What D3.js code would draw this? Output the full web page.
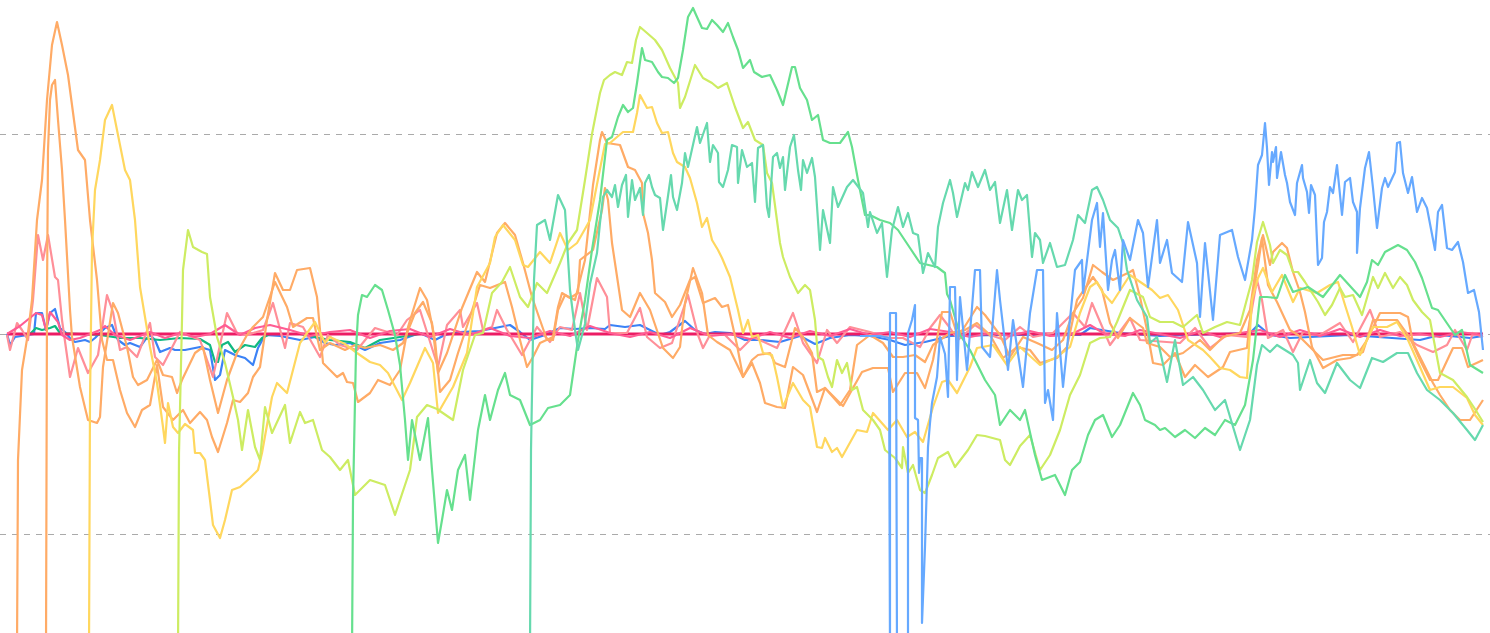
<!DOCTYPE html>
<html>
<head>
<meta charset="utf-8">
<script src="https://cdnjs.cloudflare.com/ajax/libs/d3/7.8.5/d3.min.js"></script>
<style>html,body{margin:0;padding:0;background:#fff;overflow:hidden}svg{display:block}</style>
</head>
<body>
<svg id="c" width="1490" height="633"></svg>
<script>
// flat lists: step, value, step, value ...
const gridValues = [-200, 0, 200];
const deepBlue = [7,0,10,-11,15,-3,34,0,36,21,42,21,46,4,50,21,55,25,60,6,65,2,70,-4,75,-8,85,-6,90,-8,95,-4,105,6,112,9,118,-6,125,-11,130,-9,140,-13,145,-6,150,-1,155,-6,160,-18,170,-14,175,-16,185,-16,200,-13,210,-16,215,-46,220,-41,225,-16,235,-21,245,-24,253,-31,258,-14,265,-1,280,-2,300,-6,315,-3,325,-9,335,-11,350,-9,365,-16,380,-9,400,-6,420,1,435,-6,445,-1,460,2,480,3,500,7,510,9,520,2,530,-6,545,-1,560,6,575,5,590,6,605,5,610,9,625,7,640,9,650,4,660,-1,670,2,685,13,695,4,705,0,715,2,730,1,745,-6,760,-6,780,-8,800,-2,815,-10,830,-4,850,-1,870,-2,890,-6,905,-11,925,-8,950,-2,1000,-1,1080,-1,1090,6,1120,1,1160,-2,1250,1,1258,9,1270,-1,1290,-4,1350,-1,1420,-6,1440,-1,1470,-4,1483,-2];
const deepGreen = [7,0,30,0,36,6,42,4,50,6,55,8,60,1,100,-1,120,-4,140,-4,160,-6,180,-4,200,-5,210,-11,215,-28,218,-28,222,-11,228,-8,235,-18,245,-11,255,-13,262,-4,270,0,300,0,330,-6,350,-8,365,-14,380,-6,400,-3,420,0,700,0,1483,0];
const crimson = [7,0,500,0,1000,0,1483,0];
const salmon = [7,-1,10,-16,17,11,22,4,28,-6,33,34,38,99,43,74,48,99,55,57,58,54,62,14,70,-43,78,-14,88,-39,98,-21,107,39,113,22,120,-16,127,-13,137,-23,150,11,155,-23,163,-31,180,2,200,-6,213,-43,227,21,237,1,247,-1,263,4,273,31,285,-14,290,11,303,7,320,-23,328,-1,340,-11,357,-16,375,6,397,-1,407,14,420,24,438,-33,447,9,460,24,463,7,477,31,483,4,492,7,497,24,507,4,522,-21,537,7,550,-8,560,7,572,4,580,41,587,4,597,56,607,37,610,1,627,1,640,26,647,-3,660,-14,672,-9,688,39,698,-1,703,-14,710,-1,725,-1,740,-16,753,-3,777,-14,793,21,803,-9,817,-29,827,4,837,-9,850,7,870,2,890,-4,903,-4,920,-13,930,6,940,19,950,6,958,-6,975,9,990,-1,1005,-6,1020,7,1033,-3,1053,1,1073,21,1085,7,1092,31,1110,-11,1130,16,1140,-6,1180,-9,1195,6,1210,-14,1227,-1,1247,-3,1257,54,1262,34,1268,-4,1283,4,1293,-18,1303,2,1320,-1,1340,11,1353,-8,1370,24,1380,-3,1400,2,1417,-11,1433,-18,1447,-11,1455,4,1467,-16,1473,1,1483,-3];
const pink = [7,0,20,8,36,21,42,19,46,4,50,22,58,12,62,-1,70,-6,80,-4,100,4,105,8,115,-1,130,-6,150,2,165,-4,180,1,195,-3,210,0,225,9,240,-1,255,6,270,9,290,4,310,-2,330,2,350,4,370,-4,390,3,410,5,430,-3,450,5,470,-1,490,6,510,-2,530,-4,550,3,570,-2,590,8,610,1,630,-3,650,2,670,-4,690,6,710,-2,730,0,750,-5,770,2,790,-4,810,3,830,-2,850,5,870,-1,890,2,910,-3,930,5,950,2,970,-3,990,1,1010,-2,1030,3,1050,-2,1070,-1,1090,9,1105,0,1125,-2,1140,4,1160,0,1180,-4,1200,3,1220,-3,1240,1,1260,4,1280,-3,1300,4,1320,-2,1340,5,1360,-3,1380,4,1400,-2,1420,0,1440,-3,1460,2,1483,-1];
const orangeA = [17,-320,18,-126,22,-36,28,1,32,34,37,114,42,154,47,234,52,289,57,312,62,289,68,259,72,229,78,184,85,174,90,114,97,54,102,-6,107,-26,113,-26,120,-56,127,-79,135,-93,142,-76,150,-71,157,-31,163,-73,173,-86,183,-76,190,-89,200,-78,207,-86,212,-103,218,-118,227,-89,233,-66,240,-68,248,-59,253,-43,260,-33,267,14,275,61,283,44,290,44,297,64,310,66,317,37,323,-29,330,-36,337,-43,343,-39,347,-48,353,-49,358,-68,370,-59,378,-46,390,-51,400,-36,408,7,420,46,427,34,435,-6,440,-58,450,-46,458,-19,470,17,480,49,490,46,505,52,512,27,520,-6,527,-33,533,-23,540,-9,553,-3,558,27,562,41,570,36,578,41,580,74,593,84,602,124,605,146,608,134,612,91,615,71,622,24,630,17,640,41,650,24,663,-14,673,-24,680,-13,685,31,693,66,702,41,708,-1,717,-8,730,-16,743,-43,752,-29,760,-49,765,-69,777,-73,785,-74,793,-33,803,-41,817,-78,825,-54,843,-72,853,-54,862,-38,873,-34,888,-34,893,-58,905,-39,917,-39,925,-54,933,-26,942,22,950,22,958,-3,967,11,977,27,985,19,1000,-1,1010,-23,1023,-3,1037,-9,1052,-16,1063,-6,1073,21,1083,36,1093,69,1102,62,1113,54,1130,62,1133,64,1140,37,1147,4,1153,-29,1163,-31,1175,-19,1185,-43,1195,-31,1208,-43,1223,-33,1230,-18,1247,-14,1252,34,1258,69,1262,96,1268,49,1277,32,1290,4,1298,-1,1310,-13,1323,-26,1343,-21,1357,-21,1367,-6,1380,21,1400,21,1408,17,1413,-9,1423,-29,1433,-49,1440,-61,1450,-76,1460,-86,1470,-86,1483,-66];
const orangeB = [46,-320,47,34,48,184,50,234,52,249,55,254,58,214,62,164,65,114,70,24,72,-3,80,-53,88,-86,97,-89,100,-83,103,-33,113,31,118,21,127,-13,133,-43,138,-51,147,-46,157,-26,163,-41,172,-43,177,-59,182,-46,195,-19,203,-13,210,-46,218,-79,227,-46,237,-19,247,-1,253,7,263,17,275,52,287,27,293,7,307,16,313,16,320,-16,330,-9,345,-16,355,-11,365,-14,380,-11,393,-16,403,-9,415,21,423,32,432,11,438,-39,447,-19,462,26,477,62,485,52,497,101,505,111,515,99,523,71,532,37,540,14,547,-6,553,-6,558,24,565,39,575,34,585,74,593,149,600,194,602,202,607,191,620,189,628,167,635,164,642,151,643,121,648,101,652,74,655,41,665,32,672,17,680,29,690,54,695,57,703,31,715,36,722,27,728,29,737,-11,743,-43,752,-26,758,-21,770,-19,775,-29,785,-33,795,6,803,-3,812,-19,817,-58,825,-54,840,-71,850,-56,857,-11,870,-1,883,-9,893,-23,903,-23,915,-21,925,-28,933,-11,940,-6,950,1,965,4,977,11,990,-1,1003,-24,1017,-13,1030,-16,1040,-29,1057,-24,1067,-13,1077,34,1093,57,1102,44,1110,11,1118,-4,1130,16,1143,6,1147,-9,1160,-13,1170,-23,1183,-19,1200,-6,1210,-16,1223,-3,1240,1,1250,24,1257,74,1263,99,1270,69,1273,82,1282,91,1287,86,1293,62,1300,42,1305,22,1312,-13,1323,-34,1337,-26,1350,-24,1363,-18,1373,14,1387,14,1397,14,1410,-4,1420,-26,1430,-46,1438,-46,1445,-31,1453,-14,1462,-14,1468,-33,1483,-26];
const yellow = [89,-320,90,-66,92,84,95,144,100,174,105,214,112,229,118,199,125,164,130,154,135,114,140,47,145,17,150,-13,157,-49,163,-93,165,-109,168,-69,173,-93,178,-99,185,-90,193,-96,195,-119,200,-119,205,-126,210,-166,213,-191,220,-204,225,-186,232,-156,240,-153,250,-144,258,-136,262,-119,272,-63,277,-49,287,-59,300,-9,315,12,325,-9,330,-3,345,-10,357,-19,370,-28,380,-31,388,-39,402,-66,410,-49,425,-14,433,-29,438,-79,453,-53,467,-19,477,47,490,71,495,97,503,109,515,94,523,69,528,67,540,82,550,71,560,101,568,84,577,91,585,105,590,114,600,165,605,190,610,191,617,197,623,202,633,202,637,221,640,239,647,226,652,227,657,211,662,201,668,202,673,181,677,172,685,167,690,156,697,131,702,107,707,116,712,94,718,84,722,76,730,57,738,24,743,1,748,14,752,-3,758,-1,763,-19,772,-21,777,-43,783,-73,793,-49,803,-66,810,-73,817,-113,822,-114,825,-104,832,-118,837,-114,842,-123,857,-96,867,-98,873,-79,888,-96,897,-86,907,-103,915,-98,923,-108,933,-73,942,-48,948,-46,957,-59,970,-33,977,-14,993,-11,1007,-31,1020,-13,1040,-31,1057,-23,1070,-13,1080,21,1090,47,1097,52,1103,41,1112,31,1130,59,1152,44,1160,36,1168,39,1178,24,1188,-6,1203,-16,1210,-23,1220,-34,1230,-36,1240,-43,1247,-44,1252,34,1258,56,1263,66,1272,42,1282,59,1293,32,1300,46,1317,41,1330,49,1338,52,1345,29,1352,7,1360,-21,1373,7,1387,7,1397,12,1408,-6,1420,-33,1430,-56,1440,-53,1453,-53,1467,-64,1475,-81,1483,-91];
const lime = [178,-320,179,-119,182,14,183,64,188,104,193,87,202,82,207,80,210,37,217,-3,225,-29,233,-63,238,-86,242,-116,248,-76,255,-113,260,-126,265,-73,272,-99,285,-71,290,-109,300,-78,305,-89,313,-86,322,-116,330,-123,340,-136,348,-126,355,-161,370,-146,385,-151,395,-181,410,-136,417,-83,427,-71,437,-75,453,-86,463,-36,475,-1,483,1,492,41,502,52,510,67,520,37,528,27,537,51,547,41,560,71,568,91,577,104,585,154,592,200,600,241,604,254,610,259,615,262,622,259,627,272,632,271,636,294,640,307,647,301,655,294,662,284,670,266,678,251,680,226,685,237,695,269,703,256,712,251,718,246,727,251,735,227,743,206,748,212,755,194,763,189,767,161,772,151,780,91,783,77,790,57,798,41,805,49,810,44,815,14,818,-23,823,-26,828,-43,832,-53,837,-26,842,-39,847,-29,852,-56,857,-53,863,-76,873,-86,880,-96,885,-116,895,-124,902,-134,903,-113,908,-139,913,-131,920,-156,925,-159,932,-141,938,-124,948,-118,955,-133,968,-116,977,-101,985,-102,1000,-106,1005,-126,1010,-131,1020,-112,1030,-101,1040,-136,1050,-121,1060,-96,1070,-61,1080,-41,1090,-9,1100,-4,1110,-3,1117,12,1130,44,1143,37,1150,17,1160,12,1173,12,1183,7,1197,19,1203,1,1215,7,1227,12,1240,9,1252,54,1257,92,1263,112,1270,89,1273,71,1280,84,1287,79,1293,62,1298,62,1305,52,1318,32,1325,19,1332,29,1340,46,1345,37,1353,39,1362,19,1373,57,1378,46,1385,61,1393,46,1400,57,1407,49,1413,34,1422,22,1430,14,1440,-39,1453,-46,1467,-63,1475,-75,1483,-88];
const green = [352,-320,353,-166,356,-16,358,19,362,39,367,37,375,49,382,44,388,24,395,-1,400,-31,405,-86,408,-126,412,-86,420,-126,428,-84,432,-136,438,-209,442,-186,447,-156,452,-176,458,-136,465,-121,470,-166,478,-96,485,-61,490,-86,498,-56,505,-39,510,-61,520,-66,530,-91,540,-86,548,-74,560,-71,570,-61,578,-6,585,34,592,84,600,134,607,194,612,197,618,217,623,229,628,222,633,226,637,251,642,286,645,274,652,272,658,262,662,257,668,256,674,251,678,256,683,284,688,317,693,326,697,317,702,306,707,305,712,314,717,309,723,302,728,311,733,297,738,284,743,266,750,274,754,262,762,257,770,259,777,244,783,229,792,267,795,267,800,246,807,234,812,214,818,219,823,194,830,191,840,191,848,202,852,187,858,154,865,119,870,119,880,114,890,111,898,104,910,86,920,71,937,67,945,61,947,40,950,34,960,-1,970,-16,985,-46,995,-61,1000,-91,1010,-76,1020,-86,1025,-76,1035,-121,1042,-146,1055,-141,1065,-161,1072,-136,1080,-128,1088,-101,1095,-86,1103,-81,1112,-103,1120,-91,1133,-59,1140,-71,1145,-86,1155,-91,1160,-96,1165,-94,1175,-103,1185,-96,1195,-104,1205,-94,1215,-101,1225,-86,1235,-91,1245,-71,1253,-26,1260,37,1267,37,1277,36,1285,59,1293,42,1308,47,1323,37,1340,59,1360,37,1367,52,1372,74,1378,69,1385,82,1398,89,1407,84,1415,72,1422,56,1432,26,1438,24,1455,-1,1462,4,1470,-31,1483,-39];
const teal = [530,-320,531,-116,534,54,537,109,545,114,550,94,558,139,565,124,570,44,575,4,578,-16,585,10,590,50,597,81,600,111,603,137,607,144,612,137,615,149,618,127,622,149,626,159,628,117,632,154,635,134,640,146,643,119,645,151,649,159,652,147,655,139,660,136,663,104,667,131,671,159,673,137,677,124,682,151,685,181,688,167,697,207,700,191,707,211,710,172,713,189,718,181,719,152,723,147,728,164,732,189,737,187,738,151,742,184,747,167,752,171,755,132,758,186,763,189,767,127,769,117,773,177,777,181,780,166,783,177,785,144,790,187,794,199,798,164,801,144,803,174,807,161,812,176,815,157,820,84,823,124,830,91,833,147,838,127,847,147,853,154,863,141,868,107,870,122,877,101,882,111,887,57,892,104,898,127,903,107,908,121,913,101,918,99,923,61,928,81,935,67,938,107,943,131,950,154,953,141,957,117,965,151,968,144,972,162,978,147,985,164,990,144,995,152,1000,111,1007,144,1012,104,1018,144,1022,134,1027,139,1032,77,1035,101,1040,94,1043,71,1050,91,1057,67,1065,69,1073,94,1078,119,1085,111,1092,144,1097,147,1103,134,1110,114,1118,106,1123,91,1127,64,1137,34,1147,17,1150,-9,1157,-3,1167,-48,1175,-6,1183,-51,1193,-43,1203,-56,1215,-76,1225,-66,1240,-116,1250,-86,1257,-31,1262,-11,1270,-18,1277,-11,1285,-16,1293,-21,1298,-29,1300,-56,1310,-26,1317,-49,1325,-59,1337,-29,1350,-46,1360,-54,1372,-24,1383,-28,1397,-19,1408,-19,1417,-39,1427,-56,1440,-66,1453,-79,1467,-96,1475,-106,1483,-91];
const skyBlue = [860,-2,880,-2,889,-4,890,-320,890,21,896,21,897,-320,908,-320,908,1,912,14,915,29,915,-84,918,-86,919,-139,920,-124,922,-124,922,-289,925,-213,928,-113,930,-89,932,-69,937,-43,940,-3,945,-20,948,-63,950,47,955,47,957,-46,960,37,967,-36,975,64,980,64,982,-13,990,-23,997,64,1000,34,1005,-9,1008,-36,1013,14,1023,-53,1030,21,1037,64,1043,64,1045,-69,1048,-56,1053,-86,1057,21,1063,-53,1075,64,1082,74,1083,41,1092,114,1097,131,1100,87,1103,121,1108,44,1112,74,1115,84,1120,44,1123,94,1130,74,1138,114,1143,101,1148,47,1157,114,1160,71,1167,94,1172,61,1182,52,1188,112,1197,71,1200,17,1205,91,1213,14,1220,99,1232,104,1238,77,1245,54,1252,94,1255,126,1258,169,1262,179,1265,211,1267,186,1269,149,1272,182,1273,172,1276,187,1277,156,1281,182,1285,159,1287,151,1290,132,1295,119,1297,151,1302,169,1303,156,1307,142,1309,121,1311,149,1315,139,1318,69,1322,76,1324,112,1327,122,1330,147,1333,141,1337,169,1342,119,1345,152,1350,156,1353,132,1357,122,1357,81,1360,126,1365,166,1369,182,1373,146,1377,106,1382,146,1385,156,1388,147,1395,162,1397,191,1400,192,1403,161,1408,141,1412,157,1417,122,1422,136,1427,126,1435,84,1438,122,1442,129,1447,86,1452,84,1458,92,1463,72,1468,41,1474,44,1479,22,1483,-16];

const seriesList = [deepBlue, deepGreen, crimson, salmon, pink, orangeA, orangeB, yellow, lime, green, teal, skyBlue];
const seriesColors = ["#3b82f6","#10b981","#ec1c64","#ff8f98","#ff5c93","#ffab66","#ffab66","#ffd75e","#cdec62","#66e08e","#66d9ae","#66a9ff"];
const seriesWidths = [2.2,2.2,3,2.2,2.2,2.2,2.2,2.2,2.2,2.2,2.2,2.2];

const W = 1490, H = 633;
const x = d3.scaleLinear().domain([0, 1490]).range([0, W]);
const y = d3.scaleLinear().domain([-299, 334]).range([H, 0]);
const svg = d3.select("#c");

const axis = d3.axisLeft(y).tickValues(gridValues).tickSize(-W).tickFormat("");
const g = svg.append("g").call(axis);
g.select(".domain").remove();
g.selectAll(".tick line").attr("stroke", "#aaa").attr("stroke-width", 1).attr("stroke-dasharray", "6,6");

const toPairs = a => d3.range(0, a.length, 2).map(i => [a[i], a[i + 1]]);
const line = d3.line().x(d => x(d[0])).y(d => y(d[1]));
svg.append("g").attr("fill", "none").attr("stroke-linejoin", "round")
  .selectAll("path").data(seriesList).join("path")
  .attr("stroke", (d, i) => seriesColors[i])
  .attr("stroke-width", (d, i) => seriesWidths[i])
  .attr("d", d => line(toPairs(d)));
</script>
</body>
</html>
